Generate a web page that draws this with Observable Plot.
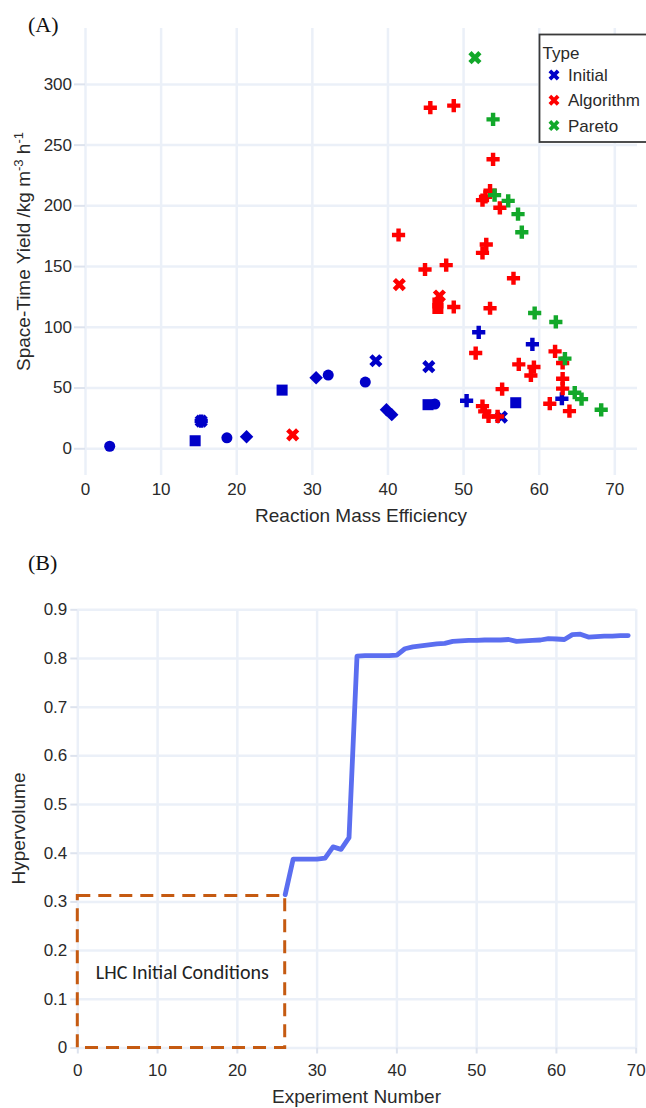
<!DOCTYPE html>
<html><head><meta charset="utf-8">
<script src="https://cdn.jsdelivr.net/npm/d3@7"></script>
<script src="https://cdn.jsdelivr.net/npm/@observablehq/plot@0.6"></script>
<style>
body{margin:0;background:#fff;}
#wrap{position:relative;width:646px;height:1108px;overflow:hidden;font-family:"Liberation Sans",Arial,sans-serif;}
.panel{position:absolute;left:0;}
.tag{position:absolute;z-index:5;font-family:"Liberation Serif","Times New Roman",serif;font-size:22px;color:#111;line-height:1;}
</style></head>
<body><div id="wrap">
<div class="panel" id="top" style="top:0"></div>
<div class="panel" id="bot" style="top:580px"></div>
<div class="tag" style="left:28px;top:14px;">(A)</div>
<div class="tag" style="left:28px;top:552px;">(B)</div>
</div>
<script>
// ---------- data: panel A ----------
const types = ["Initial", "Algorithm", "Pareto"];
const typeColors = ["#0000c8", "#ff0000", "#12a82a"];

const rmeInitial   = [3.2, 14.5, 15.3, 15.3, 18.7, 21.3, 26.0, 30.5, 32.1, 37.0, 38.4, 39.8, 40.5, 45.4, 45.3, 46.2, 50.4, 52.0, 55.0, 56.9, 59.1, 63.0];
const styInitial   = [2.1, 6.6, 22.8, 22.8, 9.0, 9.9, 48.3, 58.5, 60.7, 54.9, 72.5, 32.2, 28.1, 67.6, 36.3, 36.8, 39.6, 95.9, 26.1, 37.9, 86.0, 41.2];
const shapeInitial = ["circle","square","cross","x","circle","diamond","square","diamond","circle","circle","x","diamond","diamond","x","square","circle","cross","cross","x","square","cross","cross"];

const rmeAlgorithm   = [27.4, 41.5, 46.8, 46.6, 46.6, 41.4, 44.9, 47.7, 48.7, 45.6, 48.7, 53.9, 52.5, 52.9, 53.5, 54.8, 53.0, 52.5, 53.5, 56.6, 51.6, 62.1, 63.1, 57.3, 59.3, 58.9, 63.1, 63.1, 55.1, 52.5, 52.8, 53.3, 54.5, 61.4, 64.0];
const styAlgorithm   = [11.5, 135.2, 125.8, 115.5, 120.0, 176.0, 147.6, 151.2, 116.7, 280.8, 282.5, 238.3, 204.7, 207.4, 212.5, 198.4, 168.2, 161.3, 115.7, 140.4, 78.8, 80.2, 70.6, 69.5, 67.3, 60.4, 57.7, 49.5, 49.1, 35.1, 30.8, 26.6, 26.6, 37.1, 31.0];
const shapeAlgorithm = ["x","x","x","square","square","cross","cross","cross","cross","cross","cross","cross","cross","cross","cross","cross","cross","cross","cross","cross","cross","cross","cross","cross","cross","cross","cross","cross","cross","cross","cross","cross","cross","cross","cross"];

const rmePareto   = [51.5, 53.9, 54.1, 55.9, 57.2, 57.7, 59.4, 62.2, 63.4, 64.7, 65.6, 68.2];
const styPareto   = [322.0, 271.2, 208.8, 204.1, 193.2, 178.3, 111.8, 104.4, 74.2, 46.2, 40.9, 32.1];
const shapePareto = ["x","cross","cross","cross","cross","cross","cross","cross","cross","cross","cross","cross"];

const xTicksA = [0, 10, 20, 30, 40, 50, 60, 70];
const yTicksA = [0, 50, 100, 150, 200, 250, 300];

// ---------- data: panel B ----------
const experimentNumber = [26,27,28,29,30,31,32,33,34,35,36,37,38,39,40,41,42,43,44,45,46,47,48,49,50,51,52,53,54,55,56,57,58,59,60,61,62,63,64,65,66,67,68,69];
const hypervolume = [0.315,0.388,0.388,0.388,0.388,0.390,0.413,0.408,0.432,0.805,0.806,0.806,0.806,0.806,0.807,0.820,0.824,0.826,0.828,0.830,0.831,0.835,0.836,0.837,0.837,0.838,0.838,0.838,0.839,0.835,0.836,0.837,0.838,0.841,0.840,0.839,0.849,0.850,0.844,0.845,0.846,0.846,0.847,0.847];
const lhcBoxX = [0, 26];
const lhcBoxY = [0, 0.312];
const lhcLabel = "LHC Initial Conditions";
const lhcLabelPos = [13.1, 0.154];
const xTicksB = [0, 10, 20, 30, 40, 50, 60, 70];
const yTicksB = [0, 0.1, 0.2, 0.3, 0.4, 0.5, 0.6, 0.7, 0.8, 0.9];

// ---------- styling ----------
const gridCol = "#ebf0f8";
const tickCol = "#dde3ee";
const textCol = "#2a2a2a";
const FONT = "'Liberation Sans', Arial, sans-serif";

// custom marker shapes (plotly-like)
function crossPts(w, e) {
  return [[-w,-e],[w,-e],[w,-w],[e,-w],[e,w],[w,w],[w,e],[-w,e],[-w,w],[-e,w],[-e,-w],[-w,-w]];
}
function polySymbol(fn) {
  return {draw(ctx, size) {
    const r = Math.sqrt(size / Math.PI);
    const p = fn(r);
    ctx.moveTo(p[0][0], p[0][1]);
    for (let i = 1; i < p.length; i++) ctx.lineTo(p[i][0], p[i][1]);
    ctx.closePath();
  }};
}
const rot45 = ([a, b]) => [(a - b) / Math.SQRT2, (a + b) / Math.SQRT2];
const symbols = {
  circle: {draw(ctx, size) { const r = Math.sqrt(size / Math.PI) * 0.92; ctx.moveTo(r, 0); ctx.arc(0, 0, r, 0, 2 * Math.PI); ctx.closePath(); }},
  square: polySymbol(r => { const h = 0.92 * r; return [[-h,-h],[h,-h],[h,h],[-h,h]]; }),
  diamond: polySymbol(r => { const h = 1.12 * r; return [[0,-h],[h,0],[0,h],[-h,0]]; }),
  cross: polySymbol(r => crossPts(0.37 * r, 1.1 * r)),
  x: polySymbol(r => crossPts(0.38 * r, 1.17 * r).map(rot45))
};
const shapeNames = ["circle", "square", "diamond", "cross", "x"];

// build table
const points = [];
[[rmeInitial, styInitial, shapeInitial, "Initial"],
 [rmeAlgorithm, styAlgorithm, shapeAlgorithm, "Algorithm"],
 [rmePareto, styPareto, shapePareto, "Pareto"]].forEach(([xs, ys, ss, t]) => {
  xs.forEach((x, i) => points.push({rme: x, sty: ys[i], shape: ss[i], type: t}));
});

// ---------- panel A ----------
const marksA = [
  Plot.gridX(xTicksA, {stroke: gridCol, strokeWidth: 2.5, strokeOpacity: 1}),
  Plot.gridY(yTicksA, {stroke: gridCol, strokeWidth: 2.5, strokeOpacity: 1}),
  Plot.axisY(yTicksA, {tickSize: 11, tickPadding: 2.5, stroke: tickCol, strokeWidth: 2, fill: textCol, fontSize: 17, label: null}),
  Plot.axisX(xTicksA, {tickSize: 0, tickPadding: 7, fill: textCol, fontSize: 17, label: null})
];
for (const t of types) for (const s of shapeNames) {
  const sub = points.filter(d => d.type === t && d.shape === s);
  if (sub.length) marksA.push(Plot.dot(sub, {x: "rme", y: "sty", fill: "type", symbol: symbols[s], r: 6}));
}
const chartA = Plot.plot({
  width: 646, height: 540,
  marginLeft: 85, marginRight: 9, marginTop: 28, marginBottom: 65,
  x: {domain: [0, 73], label: null},
  y: {domain: [-22, 346], label: null},
  color: {domain: types, range: typeColors},
  style: {fontFamily: FONT, fontSize: "17px", color: textCol, background: "transparent", overflow: "visible"},
  marks: marksA
});
document.getElementById("top").appendChild(chartA);
{
  const svg = d3.select(chartA);
  svg.append("text").attr("x", 361).attr("y", 521.5).attr("text-anchor", "middle")
    .attr("font-size", 19).attr("fill", textCol).attr("font-family", FONT).text("Reaction Mass Efficiency");
  const yt = svg.append("text").attr("transform", "translate(29.5,251.5) rotate(-90)").attr("text-anchor", "middle")
    .attr("font-size", 19).attr("fill", textCol).attr("font-family", FONT);
  yt.append("tspan").text("Space-Time Yield /kg m");
  yt.append("tspan").attr("dy", -7).attr("font-size", 13).text("-3");
  yt.append("tspan").attr("dy", 7).text(" h");
  yt.append("tspan").attr("dy", -7).attr("font-size", 13).text("-1");
  // legend
  const lg = svg.append("g").attr("font-family", FONT).attr("font-size", 17).attr("fill", textCol).attr("text-anchor", "start");
  lg.append("rect").attr("x", 539.5).attr("y", 34.5).attr("width", 130).attr("height", 107.5)
    .attr("fill", "#fff").attr("stroke", "#3a3a3a").attr("stroke-width", 1.8);
  lg.append("text").attr("x", 542.5).attr("y", 59).attr("text-anchor", "start").text("Type");
  const xPath = d3.path();
  symbols.x.draw(xPath, 25 * Math.PI);
  types.forEach((t, i) => {
    const cy = 75 + i * 25.3;
    lg.append("path").attr("d", xPath.toString()).attr("transform", `translate(554,${cy})`).attr("fill", typeColors[i]);
    lg.append("text").attr("x", 568).attr("y", cy + 6).attr("text-anchor", "start").text(t);
  });
}

// ---------- panel B ----------
const hv = experimentNumber.map((e, i) => ({exp: e, hv: hypervolume[i]}));
const chartB = Plot.plot({
  width: 646, height: 528,
  marginLeft: 77.3, marginRight: 10.3, marginTop: 29.3, marginBottom: 60.5,
  x: {domain: [0, 70], label: null},
  y: {domain: [0, 0.9], label: null},
  style: {fontFamily: FONT, fontSize: "17px", color: textCol, background: "transparent", overflow: "visible"},
  marks: [
    Plot.gridX(xTicksB, {stroke: gridCol, strokeWidth: 2.5, strokeOpacity: 1}),
    Plot.gridY(yTicksB, {stroke: gridCol, strokeWidth: 2.5, strokeOpacity: 1}),
    Plot.axisY(yTicksB, {tickSize: 7, tickPadding: 3.5, stroke: tickCol, strokeWidth: 2, fill: textCol, fontSize: 17, label: null, tickFormat: d => String(d)}),
    Plot.axisX(xTicksB, {tickSize: 6, tickPadding: 10, stroke: tickCol, strokeWidth: 2, fill: textCol, fontSize: 17, label: null}),
    Plot.rect([{x1: lhcBoxX[0], x2: lhcBoxX[1], y1: lhcBoxY[0], y2: lhcBoxY[1]}],
      {x1: "x1", x2: "x2", y1: "y1", y2: "y2", fill: "none", stroke: "#c55a11", strokeWidth: 3, strokeDasharray: "13,8"}),
    Plot.text([{x: lhcLabelPos[0], y: lhcLabelPos[1], t: lhcLabel}],
      {x: "x", y: "y", text: "t", fontSize: 20, fill: "#222", fontFamily: "Carlito, 'Liberation Sans Narrow', 'Liberation Sans', sans-serif", className: "lhc"}),
    Plot.line(hv, {x: "exp", y: "hv", stroke: "#5b6ef0", strokeWidth: 4.8})
  ]
});
document.getElementById("bot").appendChild(chartB);
{
  const svg = d3.select(chartB);
  svg.selectAll(".lhc text").attr("textLength", 173).attr("lengthAdjust", "spacingAndGlyphs");
  svg.append("text").attr("x", 356.5).attr("y", 523).attr("text-anchor", "middle")
    .attr("font-size", 19).attr("fill", textCol).attr("font-family", FONT).text("Experiment Number");
  svg.append("text").attr("transform", "translate(24.5,248.5) rotate(-90)").attr("text-anchor", "middle")
    .attr("font-size", 19).attr("fill", textCol).attr("font-family", FONT).text("Hypervolume");
}
</script>
</body></html>
